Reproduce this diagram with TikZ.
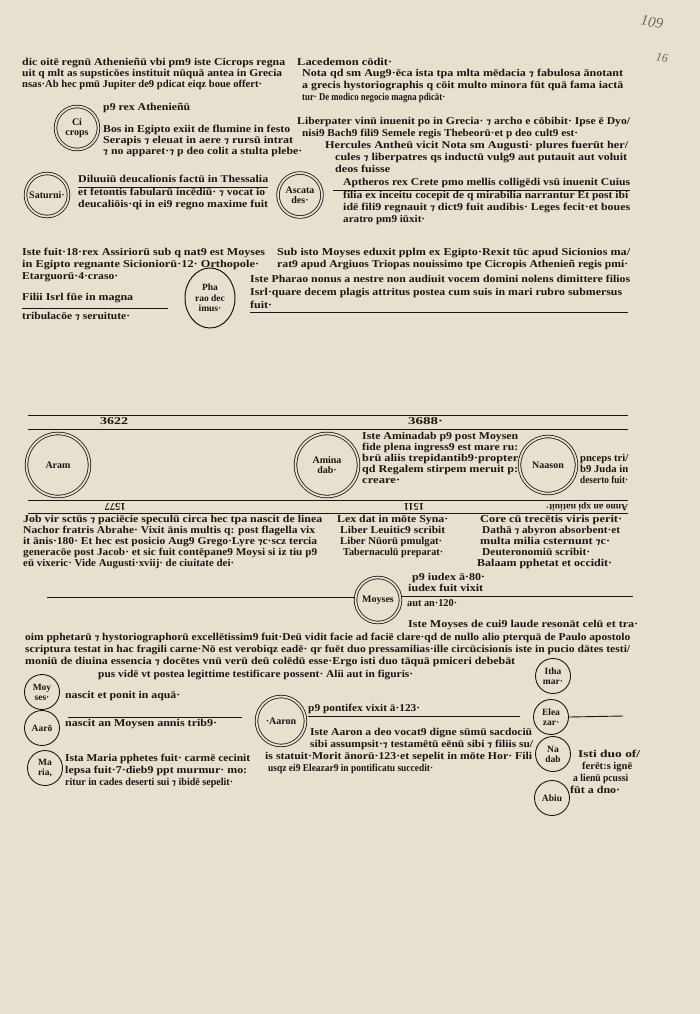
\documentclass[tikz,border=0pt]{standalone}
\usepackage{fontspec}
\setmainfont{Liberation Serif}
\newfontfamily\djfont{DejaVu Sans}
\usepackage{graphicx}
\usetikzlibrary{shapes.geometric}
\definecolor{paper}{RGB}{232,224,207}
\definecolor{ink}{RGB}{26,22,18}
\definecolor{pencil}{RGB}{110,100,92}
\newcommand\et{{\djfont\bfseries\fontsize{8.5}{10}\selectfont ⁊}}
\newcommand\tline[5]{\node[txt] (#1) at (#2,#4) {\resizebox{\dimexpr #3pt-#2pt\relax}{\height}{\strut #5}};}
\tikzset{
  txt/.style={anchor=west, inner sep=0pt, text=ink, font=\bfseries\fontsize{10.5}{12}\selectfont},
  rtxt/.style={anchor=center, inner sep=0pt, text=ink, rotate=180, font=\bfseries\fontsize{10.5}{12}\selectfont},
  dcirc/.style={circle, draw=ink, double=paper, double distance=1.8pt, line width=0.8pt, inner sep=0pt, align=center, text=ink, font=\bfseries\fontsize{10}{10.5}\selectfont},
  scirc/.style={circle, draw=ink, line width=0.9pt, inner sep=0pt, minimum size=35pt, align=center, text=ink, font=\bfseries\fontsize{9.5}{10}\selectfont},
  rule/.style={draw=ink, line width=0.9pt},
  hand/.style={text=pencil, inner sep=0pt, font=\itshape\fontsize{15}{15}\selectfont}
}
\begin{document}
\begin{tikzpicture}[x=1pt, y=-1pt]
\fill[paper] (0,0) rectangle (700,1014);
\useasboundingbox (0,0) rectangle (700,1014);
% marginal handwriting
\node[hand, rotate=-10] (m1) at (652,22) {109};
\node[hand, rotate=-10, font=\itshape\fontsize{12}{12}\selectfont] (m2) at (662,58) {16};
% ---------- top left
\tline{a1}{22}{285}{63}{dic oitē regnū Athenieñū vbi pm9 iste Cicrops regna}
\tline{a2}{22}{282}{74}{uit q mlt as supsticōes instituit nūquā antea in Grecia}
\tline{a3}{22}{262}{85}{nsas·Ab hec pmū Jupiter de9 pdicat eiqz boue offert·}
\tline{a4}{103}{190}{108}{p9 rex Athenieñū}
\tline{a5}{103}{290}{130}{Bos in Egipto exiit de flumine in festo}
\tline{a6}{103}{293}{141}{Serapis \et{} eleuat in aere \et{} rursū intrat}
\tline{a7}{103}{302}{152}{\et{} no apparet·\et{} p deo colit a stulta plebe·}
\tline{a8}{78}{268}{180}{Diluuiū deucalionis factū in Thessalia}
\tline{a9}{78}{265}{193}{et fetontis fabularū incēdiū· \et{} vocat io}
\tline{a10}{78}{268}{205}{deucaliōis·qi in ei9 regno maxime fuit}
\coordinate (ra1) at (78,187); \coordinate (ra2) at (268,187);
\draw[rule] (ra1) -- (ra2);
\node[dcirc, minimum size=43pt] (cicrops) at (77,128) {Ci\\crops};
\node[dcirc, minimum size=43pt] (saturni) at (47,195) {Saturni·};
\node[dcirc, minimum size=44pt] (ascat) at (300,195) {Ascata\\des·};
% ---------- top right
\tline{b1}{297}{392}{63}{Lacedemon cōdit·}
\tline{b2}{302}{623}{74}{Nota qd sm Aug9·ēca ista tpa mlta mēdacia \et{} fabulosa ānotant}
\tline{b3}{302}{623}{86}{a grecis hystoriographis q cōit multo minora fūt quā fama iactā}
\tline{b4}{302}{445}{98}{tur· De modico negocio magna pdicāt·}
\tline{b5}{297}{630}{122}{Liberpater vinū inuenit po in Grecia· \et{} archo e cōbibit· Ipse ē Dyo/}
\tline{b6}{302}{578}{134}{nisi9 Bach9 fili9 Semele regis Thebeorū·et p deo cult9 est·}
\tline{b7}{325}{628}{146}{Hercules Antheū vicit Nota sm Augusti· plures fuerūt her/}
\tline{b8}{335}{627}{158}{cules \et{} liberpatres qs inductū vulg9 aut putauit aut voluit}
\tline{b9}{335}{390}{170}{deos fuisse}
\tline{b10}{343}{630}{183}{Aptheros rex Crete pmo mellis colligēdi vsū inuenit Cuius}
\tline{b11}{343}{628}{196}{filia ex inceitu cocepit de q mirabilia narrantur Et post ibi}
\tline{b12}{343}{630}{208}{idē fili9 regnauit \et{} dict9 fuit audibis· Leges fecit·et boues}
\tline{b13}{343}{425}{220}{aratro pm9 iūxit·}
\coordinate (rb1) at (333,190); \coordinate (rb2) at (630,190);
\draw[rule] (rb1) -- (rb2);
% ---------- middle
\tline{c1}{22}{265}{253}{Iste fuit·18·rex Assiriorū sub q nat9 est Moyses}
\tline{c2}{22}{259}{265}{in Egipto regnante Sicioniorū·12· Orthopole·}
\tline{c3}{22}{118}{277}{Etarguorū·4·craso·}
\tline{c4}{22}{133}{298}{Filii Isrl fūe in magna}
\tline{c5}{22}{130}{317}{tribulacōe \et{} seruitute·}
\coordinate (rc1) at (22,308); \coordinate (rc2) at (168,308);
\draw[rule] (rc1) -- (rc2);
\node[ellipse, draw=ink, line width=1pt, minimum width=50pt, minimum height=60pt, inner sep=0pt, align=center, text=ink, font=\bfseries\fontsize{9.5}{10.5}\selectfont] (pharao) at (210,298) {Pha\\rao dec\\imus·};
\tline{c6}{277}{630}{253}{Sub isto Moyses eduxit pplm ex Egipto·Rexit tūc apud Sicionios ma/}
\tline{c7}{277}{628}{265}{rat9 apud Argiuos Triopas nouissimo tpe Cicropis Athenieñ regis pmi·}
\tline{c8}{250}{630}{280}{Iste Pharao nonus a nestre non audiuit vocem domini nolens dimittere filios}
\tline{c9}{250}{622}{293}{Isrl·quare decem plagis attritus postea cum suis in mari rubro submersus}
\tline{c10}{250}{272}{306}{fuit·}
\coordinate (rd1) at (250,312); \coordinate (rd2) at (628,312);
\draw[rule] (rd1) -- (rd2);
% ---------- year band
\coordinate (y1a) at (28,415); \coordinate (y1b) at (628,415);
\coordinate (y2a) at (28,429); \coordinate (y2b) at (628,429);
\coordinate (y3a) at (28,500); \coordinate (y3b) at (628,500);
\coordinate (y4a) at (28,513); \coordinate (y4b) at (628,513);
\draw[rule] (y1a) -- (y1b);
\draw[rule] (y2a) -- (y2b);
\draw[rule] (y3a) -- (y3b);
\draw[rule] (y4a) -- (y4b);
\tline{yr1}{100}{128}{422}{3622}
\tline{yr2}{408}{443}{422}{3688·}
\node[dcirc, minimum size=63pt] (aram) at (58,465) {Aram};
\node[dcirc, minimum size=63pt] (aminadab) at (327,465) {Amina\\dab·};
\node[dcirc, minimum size=57pt] (naason) at (548,465) {Naason};
\tline{d1}{362}{518}{437}{Iste Aminadab p9 post Moysen}
\tline{d2}{362}{518}{448}{fide plena ingress9 est mare ru:}
\tline{d3}{362}{518}{459}{brū aliis trepidantib9·propter}
\tline{d4}{362}{518}{470}{qd Regalem stirpem meruit p:}
\tline{d5}{362}{400}{481}{creare·}
\tline{d6}{580}{628}{459}{pnceps tri/}
\tline{d7}{580}{628}{470}{b9 Juda in}
\tline{d8}{580}{628}{481}{deserto fuit·}
\node[rtxt] (r1) at (115,506.5) {1577};
\node[rtxt] (r2) at (414,506.5) {1511};
\node[rtxt, font=\bfseries\fontsize{9.5}{11}\selectfont] (r3) at (587,506.5) {Anno an xpi natiuit·};
% ---------- Job etc.
\tline{e1}{23}{322}{520}{Job vir sctūs \et{} paciēcie speculū circa hec tpa nascit de linea}
\tline{e2}{23}{315}{531}{Nachor fratris Abrahe· Vixit ānis multis q: post flagella vix}
\tline{e3}{23}{317}{542}{it ānis·180· Et hec est posicio Aug9 Grego·Lyre \et{}c·scz tercia}
\tline{e4}{23}{317}{553}{generacōe post Jacob· et sic fuit contēpane9 Moysi si iz tiu p9}
\tline{e5}{23}{234}{564}{eū vixeric· Vide Augusti·xviij· de ciuitate dei·}
\tline{f1}{337}{448}{520}{Lex dat in mōte Syna·}
\tline{f2}{340}{445}{531}{Liber Leuitic9 scribit}
\tline{f3}{340}{442}{542}{Liber Nūorū pmulgat·}
\tline{f4}{343}{443}{553}{Tabernaculū preparat·}
\tline{g1}{480}{622}{520}{Core cū trecētis viris perit·}
\tline{g2}{482}{620}{531}{Dathā \et{} abyron absorbent·et}
\tline{g3}{480}{610}{542}{multa milia csternunt \et{}c·}
\tline{g4}{482}{590}{553}{Deuteronomiū scribit·}
\tline{g5}{477}{612}{564}{Balaam pphetat et occidit·}
% ---------- Moyses
\node[dcirc, minimum size=45pt] (moyses) at (378,600) {Moyses};
\coordinate (mosL) at (47,597); \coordinate (mosR) at (633,596);
\draw[rule] (mosL) -- (moyses.west |- mosL);
\draw[rule] (moyses.east |- mosR) -- (mosR);
\tline{h1}{412}{485}{578}{p9 iudex ā·80·}
\tline{h2}{408}{483}{589}{iudex fuit vixit}
\tline{h3}{407}{457}{604}{aut an·120·}
\tline{h4}{408}{638}{625}{Iste Moyses de cui9 laude resonāt celū et tra·}
\tline{h5}{25}{630}{638}{oim pphetarū \et{} hystoriographorū excellētissim9 fuit·Deū vidit facie ad faciē clare·qd de nullo alio pterquā de Paulo apostolo}
\tline{h6}{25}{630}{650}{scriptura testat in hac fragili carne·Nō est verobiqz eadē· qr fuēt duo pressamilias·ille circūcisionis iste in pucio dātes testi/}
\tline{h7}{25}{515}{662}{moniū de diuina essencia \et{} docētes vnū verū deū colēdū esse·Ergo isti duo tāquā pmiceri debebāt}
\tline{h8}{98}{413}{675}{pus vidē vt postea legittime testificare possent· Alii aut in figuris·}
% ---------- bottom left
\node[scirc] (moysm) at (42,692) {Moy\\ses·};
\node[scirc] (aarom) at (42,728) {Aarō};
\node[scirc] (maria) at (45,768) {Ma\\ria,};
\tline{i1}{65}{180}{696}{nascit et ponit in aquā·}
\coordinate (ri1) at (68,717); \coordinate (ri2) at (242,717);
\draw[rule] (ri1) -- (ri2);
\tline{i2}{65}{217}{724}{nascit an Moysen annis trib9·}
\tline{i3}{65}{250}{759}{Ista Maria pphetes fuit· carmē cecinit}
\tline{i4}{65}{247}{771}{lepsa fuit·7·dieb9 ppt murmur· mo:}
\tline{i5}{65}{233}{783}{ritur in cades deserti sui \et{} ibidē sepelit·}
% ---------- Aaron
\node[dcirc, minimum size=49pt] (aaron) at (281,721) {·Aaron};
\tline{j1}{308}{420}{709}{p9 pontifex vixit ā·123·}
\coordinate (rj1) at (308,716); \coordinate (rj2) at (520,716);
\draw[rule] (rj1) -- (rj2);
\tline{j2}{310}{532}{733}{Iste Aaron a deo vocat9 digne sūmū sacdociū}
\tline{j3}{310}{533}{745}{sibi assumpsit·\et{} testamētū eēnū sibi \et{} filiis su/}
\tline{j4}{265}{532}{757}{is statuit·Morit ānorū·123·et sepelit in mōte Hor· Fili}
\tline{j5}{268}{433}{769}{usqz ei9 Eleazar9 in pontificatu succedit·}
% ---------- right circles
\node[scirc] (itha) at (553,676) {Itha\\mar·};
\node[scirc] (elea) at (551,717) {Elea\\zar·};
\node[scirc] (nadab) at (553,754) {Na\\dab};
\node[scirc] (abiu) at (552,798) {Abiu};
\coordinate (rk) at (623,716);
\draw[rule] (elea.east) -- (rk);
\tline{k1}{578}{640}{755}{Isti duo of/}
\tline{k2}{582}{632}{767}{ferēt:s ignē}
\tline{k3}{573}{628}{779}{a lienū pcussi}
\tline{k4}{570}{620}{791}{fūt a dno·}
\end{tikzpicture}
\end{document}
